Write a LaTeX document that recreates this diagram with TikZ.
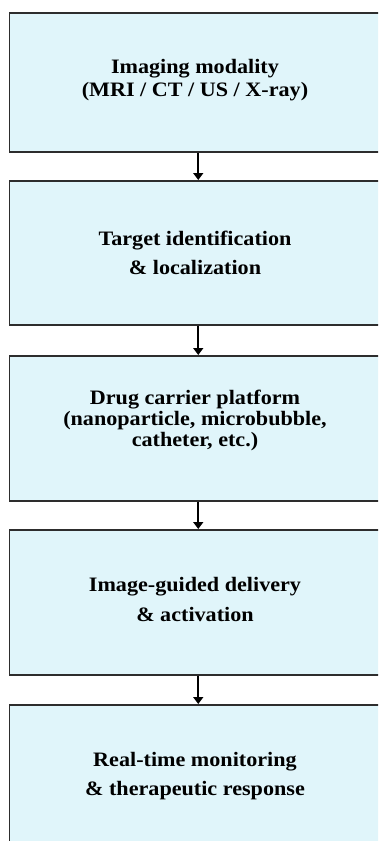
\documentclass[tikz,border=0pt]{standalone}
\usepackage{fontspec}
\newfontfamily\lblfont{Liberation Serif}[FakeStretch=1.08]
\usetikzlibrary{arrows.meta}
\definecolor{boxfill}{RGB}{224,245,250}
\definecolor{boxline}{RGB}{45,45,45}
\tikzset{
  box/.style={draw=boxline, line width=1.4pt, fill=boxfill, minimum width=371.5pt, inner sep=0pt},
  lbl/.style={anchor=base, inner sep=0pt, font=\lblfont\bfseries\fontsize{20.5}{23}\selectfont, text=black},
  arr/.style={draw=black, line width=1.8pt, -{Triangle[length=7pt,width=10pt]}, shorten >=0.3pt}
}
\begin{document}
\begin{tikzpicture}[x=1pt,y=1pt]
\useasboundingbox (0,0) rectangle (378,-841);
\clip (0,0) rectangle (378,-841);
\fill[white] (0,0) rectangle (378,-841);
% boxes
\node[box, minimum height=139pt] (b1) at (195.25,-82.5) {};
\node[box, minimum height=144pt] (b2) at (195.25,-253) {};
\node[box, minimum height=145pt] (b3) at (195.25,-428.5) {};
\node[box, minimum height=145pt] (b4) at (195.25,-602.5) {};
\node[box, minimum height=180pt] (b5) at (195.25,-795) {};
% labels
\node[lbl] (t1a) at (195,-73) {Imaging modality};
\node[lbl] (t1b) at (195,-96) {(MRI / CT / US / X-ray)};
\node[lbl] (t2a) at (195,-245) {Target identification};
\node[lbl] (t2b) at (195,-274) {\& localization};
\node[lbl] (t3a) at (195,-404) {Drug carrier platform};
\node[lbl] (t3b) at (195,-425) {(nanoparticle, microbubble,};
\node[lbl] (t3c) at (195,-446) {catheter, etc.)};
\node[lbl] (t4a) at (195,-591) {Image-guided delivery};
\node[lbl] (t4b) at (195,-621) {\& activation};
\node[lbl] (t5a) at (195,-766) {Real-time monitoring};
\node[lbl] (t5b) at (195,-795) {\& therapeutic response};
% arrows
\draw[arr] ([xshift=3pt]b1.south) -- ([xshift=3pt]b2.north);
\draw[arr] ([xshift=3pt]b2.south) -- ([xshift=3pt]b3.north);
\draw[arr] ([xshift=3pt]b3.south) -- ([xshift=3pt]b4.north);
\draw[arr] ([xshift=3pt]b4.south) -- ([xshift=3pt]b5.north);
\end{tikzpicture}
\end{document}
